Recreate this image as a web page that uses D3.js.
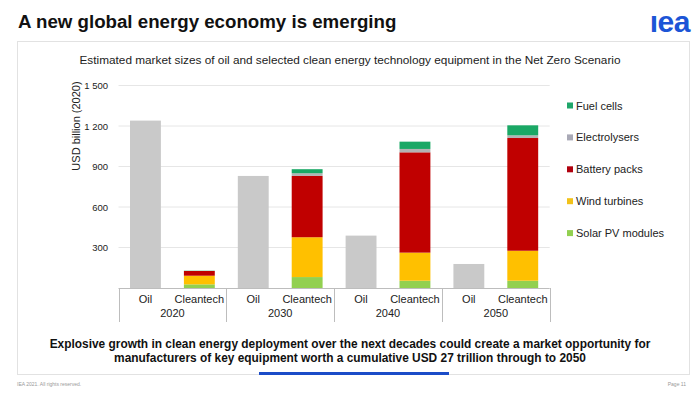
<!DOCTYPE html>
<html>
<head>
<meta charset="utf-8">
<script src="https://cdn.jsdelivr.net/npm/d3@7"></script>
<style>
  html, body { margin: 0; padding: 0; background: #fff; }
  svg { display: block; font-family: Arial, "Liberation Sans", sans-serif; }
</style>
</head>
<body>
<svg id="chart" width="700" height="394"></svg>
<script>
// Chart data (USD billion, 2020)
const years = ['2020', '2030', '2040', '2050'];
const kinds = ['Oil', 'Cleantech'];
const oilValues = [1240, 830, 388, 178];
const techSeries = ['Solar PV modules', 'Wind turbines', 'Battery packs', 'Electrolysers', 'Fuel cells'];
const solarValues = [27, 81, 54, 54];
const windValues = [64, 295, 208, 222];
const batteryValues = [35, 454, 743, 835];
const electrolyserValues = [0, 20, 25, 20];
const fuelCellValues = [2, 30, 54, 74];
const yTicks = [300, 600, 900, 1200, 1500];
const legendOrder = ['Fuel cells', 'Electrolysers', 'Battery packs', 'Wind turbines', 'Solar PV modules'];

const COLORS = {
  oil: '#c9c9c9',
  'Solar PV modules': '#92d050',
  'Wind turbines': '#ffc000',
  'Battery packs': '#c00000',
  'Electrolysers': '#b3b3b3',
  'Fuel cells': '#1aa865'
};
const LEGEND_COLORS = {
  'Solar PV modules': '#92d050',
  'Wind turbines': '#f2c21a',
  'Battery packs': '#b0000e',
  'Electrolysers': '#a9a9b6',
  'Fuel cells': '#1fa66a'
};

const svg = d3.select('#chart');

// Slide frame
svg.append('text')
  .attr('x', 18).attr('y', 27.5)
  .attr('font-size', 18.7).attr('font-weight', 'bold').attr('fill', '#111')
  .text('A new global energy economy is emerging');

svg.append('text')
  .attr('x', 690).attr('y', 31.5)
  .attr('text-anchor', 'end')
  .attr('font-size', 30).attr('font-weight', 'bold').attr('fill', '#1c55d6')
  .attr('letter-spacing', -0.5)
  .text('\u0131ea');

svg.append('rect')
  .attr('x', 17.5).attr('y', 41.5).attr('width', 672).attr('height', 333)
  .attr('fill', 'none').attr('stroke', '#e2e2e2');

svg.append('text')
  .attr('x', 350).attr('y', 64)
  .attr('text-anchor', 'middle')
  .attr('font-size', 11.8).attr('fill', '#222')
  .text('Estimated market sizes of oil and selected clean energy technology equipment in the Net Zero Scenario');

// Scales
const x0 = d3.scaleBand().domain(years).range([118.5, 549.7]);
const x1 = d3.scaleBand().domain(kinds).range([0, x0.bandwidth()])
  .paddingInner(0.427).paddingOuter(0.2135);
const y = d3.scaleLinear().domain([0, 1500]).range([288, 85.5]);

// Gridlines
svg.append('g')
  .selectAll('line')
  .data(yTicks)
  .join('line')
  .attr('x1', x0.range()[0]).attr('x2', x0.range()[1])
  .attr('y1', d => y(d)).attr('y2', d => y(d))
  .attr('stroke', '#e6e6e6').attr('stroke-width', 1);

// Y axis labels
const yAxis = svg.append('g')
  .attr('transform', 'translate(108,0)')
  .call(d3.axisLeft(y).tickValues(yTicks).tickSize(0).tickPadding(0)
    .tickFormat(d => d3.format(',')(d).replace(',', ' ')));
yAxis.select('.domain').remove();
yAxis.selectAll('text').attr('font-size', 9.5).attr('fill', '#222')
  .attr('font-family', 'Arial, "Liberation Sans", sans-serif');

svg.append('text')
  .attr('transform', 'translate(80,126) rotate(-90)')
  .attr('text-anchor', 'middle')
  .attr('font-size', 11).attr('fill', '#222')
  .text('USD billion (2020)');

// Stack clean tech series
const techRows = years.map((yr, i) => ({
  year: yr,
  'Solar PV modules': solarValues[i],
  'Wind turbines': windValues[i],
  'Battery packs': batteryValues[i],
  'Electrolysers': electrolyserValues[i],
  'Fuel cells': fuelCellValues[i]
}));
const stacked = d3.stack().keys(techSeries)(techRows);

// Oil bars
svg.append('g')
  .selectAll('rect')
  .data(years.map((yr, i) => ({ year: yr, value: oilValues[i] })))
  .join('rect')
  .attr('x', d => x0(d.year) + x1('Oil'))
  .attr('width', x1.bandwidth())
  .attr('y', d => y(d.value))
  .attr('height', d => y(0) - y(d.value))
  .attr('fill', COLORS.oil);

// Cleantech bars
svg.append('g')
  .selectAll('g')
  .data(stacked)
  .join('g')
  .attr('fill', s => COLORS[s.key])
  .selectAll('rect')
  .data(s => s)
  .join('rect')
  .attr('x', d => x0(d.data.year) + x1('Cleantech'))
  .attr('width', x1.bandwidth())
  .attr('y', d => y(d[1]))
  .attr('height', d => y(d[0]) - y(d[1]));

// Category axis
const axisG = svg.append('g').attr('class', 'x-axis');
axisG.append('line')
  .attr('x1', x0.range()[0]).attr('x2', x0.range()[1])
  .attr('y1', y(0) + 0.5).attr('y2', y(0) + 0.5)
  .attr('stroke', '#bdbdbd');

const separators = years.map(yr => x0(yr)).concat([x0.range()[1]]);
axisG.selectAll('line.sep')
  .data(separators)
  .join('line')
  .attr('class', 'sep')
  .attr('x1', d => Math.round(d) + 0.5).attr('x2', d => Math.round(d) + 0.5)
  .attr('y1', y(0)).attr('y2', 322)
  .attr('stroke', '#bdbdbd');

years.forEach(yr => {
  kinds.forEach(k => {
    axisG.append('text')
      .attr('x', x0(yr) + x1(k) + x1.bandwidth() / 2)
      .attr('y', 302.5)
      .attr('text-anchor', 'middle')
      .attr('font-size', 11).attr('fill', '#222')
      .text(k);
  });
  axisG.append('text')
    .attr('x', x0(yr) + x0.bandwidth() / 2)
    .attr('y', 317)
    .attr('text-anchor', 'middle')
    .attr('font-size', 11).attr('fill', '#222')
    .text(yr);
});

// Legend
const legend = svg.append('g')
  .selectAll('g')
  .data(legendOrder)
  .join('g')
  .attr('transform', (d, i) => `translate(567,${105.5 + i * 31.9})`);
legend.append('rect')
  .attr('x', 0).attr('y', -3).attr('width', 6).attr('height', 6)
  .attr('fill', d => LEGEND_COLORS[d]);
legend.append('text')
  .attr('x', 9).attr('y', 4)
  .attr('font-size', 11).attr('fill', '#222')
  .text(d => d);

// Key message
const message = [
  'Explosive growth in clean energy deployment over the next decades could create a market opportunity for',
  'manufacturers of key equipment worth a cumulative USD 27 trillion through to 2050'
];
svg.append('g')
  .selectAll('text')
  .data(message)
  .join('text')
  .attr('x', 350).attr('y', (d, i) => 347.5 + i * 14)
  .attr('text-anchor', 'middle')
  .attr('font-size', 11.9).attr('font-weight', 'bold').attr('fill', '#111')
  .text(d => d);

svg.append('rect')
  .attr('x', 259).attr('y', 372).attr('width', 190).attr('height', 3)
  .attr('fill', '#1b4cc8');

// Footer
svg.append('text')
  .attr('x', 17).attr('y', 386)
  .attr('font-size', 5).attr('fill', '#999')
  .text('IEA 2021. All rights reserved.');
svg.append('text')
  .attr('x', 686).attr('y', 386)
  .attr('text-anchor', 'end')
  .attr('font-size', 5).attr('fill', '#999')
  .text('Page 11');
</script>
</body>
</html>
